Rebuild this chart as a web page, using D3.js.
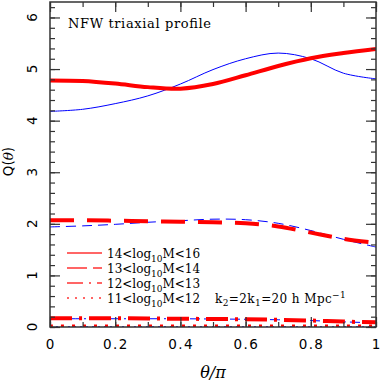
<!DOCTYPE html>
<html>
<head>
<meta charset="utf-8">
<script src="https://cdn.jsdelivr.net/npm/d3@7"></script>
<style>
  body { margin: 0; background: #fff; }
  svg { display: block; }
</style>
</head>
<body>
<div id="chart"></div>
<script>
// 데이터 (θ/π = 0, 0.1, ... 1)
const theta = [0, 0.1, 0.2, 0.3, 0.4, 0.5, 0.6, 0.7, 0.8, 0.9, 1.0];

const red14 = [4.78, 4.77, 4.72, 4.65, 4.62, 4.71, 4.88, 5.06, 5.21, 5.31, 5.39];
const blue14 = [4.18, 4.22, 4.33, 4.48, 4.71, 4.99, 5.20, 5.31, 5.20, 4.92, 4.81];
const red13 = [2.07, 2.07, 2.06, 2.05, 2.04, 2.03, 2.01, 1.95, 1.83, 1.71, 1.63];
const blue13 = [1.94, 1.96, 1.99, 2.03, 2.06, 2.09, 2.08, 2.01, 1.87, 1.70, 1.55];
const red12 = [0.17, 0.17, 0.17, 0.165, 0.16, 0.155, 0.15, 0.14, 0.125, 0.105, 0.09];
const blue12 = [0.16, 0.16, 0.16, 0.16, 0.16, 0.155, 0.15, 0.14, 0.125, 0.10, 0.08];
const red11 = [0.01, 0.01, 0.01, 0.01, 0.01, 0.01, 0.01, 0.01, 0.01, 0.01, 0.01];
const blue11 = [0.005, 0.005, 0.005, 0.005, 0.005, 0.005, 0.005, 0.005, 0.005, 0.005, 0.005];

const xTicks = [0, 0.2, 0.4, 0.6, 0.8, 1];
const yTicks = [0, 1, 2, 3, 4, 5, 6];
const legendLabels = ['14', '13', '12', '11'];
const legendUpper = ['16', '14', '13', '12'];

const W = 382, H = 386;
const margin = { top: 2, right: 6, bottom: 59, left: 50 };
const width = W - margin.left - margin.right;
const height = H - margin.top - margin.bottom;

const svg = d3.select('#chart').append('svg')
    .attr('width', W)
    .attr('height', H);
const g = svg.append('g').attr('transform', `translate(${margin.left},${margin.top})`);

const x = d3.scaleLinear().domain([0, 1]).range([0, width]);
const y = d3.scaleLinear().domain([0, 6.3]).range([height, 0]);

// 선 스타일
const styles = {
    solid: null,
    dashed: '24,13',
    dashdot: '22,7,3,7',
    dotted: '3,8'
};
const series = [
    { v: blue14, color: '#0000ff', w: 1, dash: null },
    { v: red14, color: '#ff0000', w: 4, dash: null },
    { v: blue13, color: '#0000ff', w: 1, dash: '10,6' },
    { v: red13, color: '#ff0000', w: 4, dash: styles.dashed },
    { v: blue12, color: '#0000ff', w: 1, dash: '10,4,2,4' },
    { v: red12, color: '#ff0000', w: 4, dash: styles.dashdot },
    { v: blue11, color: '#0000ff', w: 1, dash: '2,4' },
    { v: red11, color: '#ff0000', w: 4, dash: styles.dotted }
];

const line = d3.line()
    .x((d, i) => x(theta[i]))
    .y(d => y(d))
    .curve(d3.curveCatmullRom);

svg.append('clipPath').attr('id', 'clip')
    .append('rect').attr('width', width).attr('height', height);

g.append('g').attr('clip-path', 'url(#clip)')
  .selectAll('path')
  .data(series)
  .enter().append('path')
    .attr('d', d => line(d.v))
    .attr('fill', 'none')
    .attr('stroke', d => d.color)
    .attr('stroke-width', d => d.w)
    .attr('stroke-dasharray', d => d.dash);

// 축 (눈금은 안쪽)
const axisColor = '#333';
function ticks(axisFn, scale, vals, size) {
    return axisFn(scale).tickValues(vals).tickSize(size).tickFormat('');
}
const xMinor = d3.range(0, 1.0001, 0.1);
const yMinor = d3.range(0, 6.3, 0.2);

g.append('g').attr('transform', `translate(0,${height})`).call(ticks(d3.axisTop, x, xMinor, 5));
g.append('g').attr('transform', `translate(0,${height})`).call(ticks(d3.axisTop, x, xTicks, 10));
g.append('g').call(ticks(d3.axisBottom, x, xMinor, 5));
g.append('g').call(ticks(d3.axisBottom, x, xTicks, 10));
g.append('g').call(ticks(d3.axisRight, y, yMinor, 5));
g.append('g').call(ticks(d3.axisRight, y, yTicks, 10));
g.append('g').attr('transform', `translate(${width},0)`).call(ticks(d3.axisLeft, y, yMinor, 5));
g.append('g').attr('transform', `translate(${width},0)`).call(ticks(d3.axisLeft, y, yTicks, 10));
g.selectAll('.domain').remove();
g.selectAll('.tick line').attr('stroke', axisColor).attr('stroke-width', 1.2);

g.append('rect')
    .attr('width', width).attr('height', height)
    .attr('fill', 'none').attr('stroke', axisColor).attr('stroke-width', 1.5);

// 눈금 라벨
g.selectAll('.xlab').data(xTicks).enter().append('text')
    .attr('x', d => x(d) + 0.7).attr('y', height + 21.5)
    .attr('text-anchor', 'middle')
    .style('font-family', 'DejaVu Sans').style('font-size', '13.5px')
    .style('letter-spacing', '1.4px')
    .text(d => d.toString());

g.selectAll('.ylab').data(yTicks).enter().append('text')
    .attr('transform', d => `translate(-17.5,${y(d)}) rotate(-90)`)
    .attr('text-anchor', 'middle').attr('dy', '0.36em')
    .style('font-family', 'DejaVu Sans').style('font-size', '13.5px')
    .text(d => d);

svg.append('text')
    .attr('x', margin.left + width / 2).attr('y', 378)
    .attr('text-anchor', 'middle')
    .style('font-family', 'DejaVu Serif').style('font-size', '16px').style('font-style', 'italic')
    .text('θ/π');

svg.append('text')
    .attr('transform', `translate(13,161.5) rotate(-90)`)
    .attr('text-anchor', 'middle')
    .style('font-family', 'DejaVu Sans').style('font-size', '13.5px')
    .html('Q(<tspan font-style="italic" font-family="DejaVu Serif">θ</tspan>)');

// 제목
g.append('text')
    .attr('x', 18).attr('y', 26)
    .attr('textLength', 143).attr('lengthAdjust', 'spacing')
    .style('font-family', 'DejaVu Serif').style('font-size', '13px')
    .text('NFW triaxial profile');

// 범례
const legendDash = [null, '20,6', '16,6,2,6', '2,6'];
const legend = g.append('g');
legendLabels.forEach((lab, i) => {
    const ly = 251 + i * 15;
    legend.append('line')
        .attr('x1', 17).attr('x2', 52).attr('y1', ly).attr('y2', ly)
        .attr('stroke', '#ff3333').attr('stroke-width', 1.6)
        .attr('stroke-dasharray', legendDash[i]);
    const t = legend.append('text')
        .attr('x', 57).attr('y', ly + 4.5)
        .style('font-family', 'DejaVu Serif').style('font-size', '12px');
    t.append('tspan').text(lab + '<log');
    t.append('tspan').attr('dy', 4).style('font-size', '9px').text('10');
    t.append('tspan').attr('dy', -4).text('M<' + legendUpper[i]);
});

const k = g.append('text')
    .attr('x', 165).attr('y', 296 + 4.5)
    .style('font-family', 'DejaVu Serif').style('font-size', '12px')
    .style('letter-spacing', '0.4px');
k.append('tspan').text('k');
k.append('tspan').attr('dy', 3).style('font-size', '9px').text('2');
k.append('tspan').attr('dy', -3).text('=2k');
k.append('tspan').attr('dy', 3).style('font-size', '9px').text('1');
k.append('tspan').attr('dy', -3).text('=20 h Mpc');
k.append('tspan').attr('dy', -5).style('font-size', '9px').text('−1');
</script>
</body>
</html>
